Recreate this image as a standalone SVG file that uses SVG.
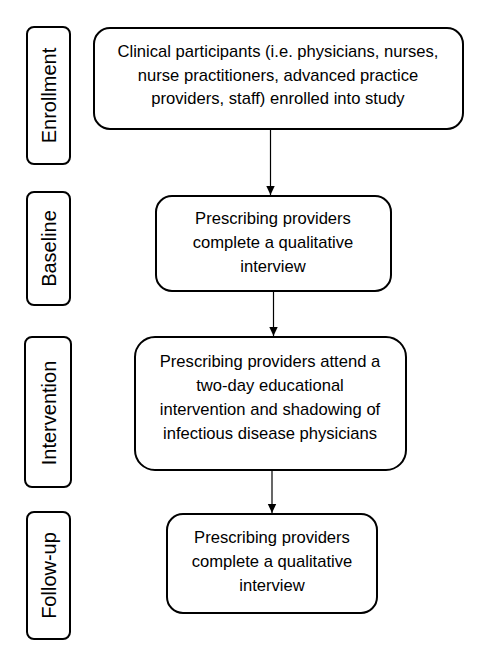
<svg xmlns="http://www.w3.org/2000/svg" width="502" height="657" viewBox="0 0 502 657">
<defs>
<marker id="ah" markerWidth="10" markerHeight="10" refX="9" refY="5" orient="auto" markerUnits="userSpaceOnUse">
<path d="M0,0.8 L9,5 L0,9.2 Z" fill="#000"/>
</marker>
<style>
.box{fill:#fff;stroke:#000;stroke-width:2}
.lab{fill:#fff;stroke:#000;stroke-width:2}
.t{font-family:"Liberation Sans",Arial,sans-serif;font-size:16.6px;fill:#000;text-anchor:middle}
.st{font-family:"Liberation Sans",Arial,sans-serif;font-size:20px;fill:#000;text-anchor:middle}
.c{stroke:#000;stroke-width:1.2;fill:none;marker-end:url(#ah)}
</style>
</defs>
<rect width="502" height="657" fill="#fff"/>
<g id="stage-enrollment">
<rect class="lab" x="27" y="27" width="43" height="137" rx="7"/>
<text class="st" transform="translate(56,95.5) rotate(-90)">Enrollment</text>
</g>
<g id="stage-baseline">
<rect class="lab" x="27" y="192" width="43" height="113" rx="7"/>
<text class="st" transform="translate(56,248.5) rotate(-90)">Baseline</text>
</g>
<g id="stage-intervention">
<rect class="lab" x="25" y="337" width="46" height="150" rx="7"/>
<text class="st" transform="translate(56,413) rotate(-90)">Intervention</text>
</g>
<g id="stage-followup">
<rect class="lab" x="27" y="512" width="43" height="127" rx="7"/>
<text class="st" transform="translate(56,575.5) rotate(-90)">Follow-up</text>
</g>
<g id="node-enrollment">
<rect class="box" x="94" y="28" width="369" height="101" rx="16"/>
<text class="t" x="278" y="57">Clinical participants (i.e. physicians, nurses,</text>
<text class="t" x="278" y="81">nurse practitioners, advanced practice</text>
<text class="t" x="278" y="104">providers, staff) enrolled into study</text>
</g>
<g id="node-baseline">
<rect class="box" x="156" y="196" width="235" height="95" rx="16"/>
<text class="t" x="273" y="224">Prescribing providers</text>
<text class="t" x="273" y="248">complete a qualitative</text>
<text class="t" x="273" y="272">interview</text>
</g>
<g id="node-intervention">
<rect class="box" x="135" y="337" width="271" height="133" rx="20"/>
<text class="t" x="270" y="367">Prescribing providers attend a</text>
<text class="t" x="270" y="391">two-day educational</text>
<text class="t" x="270" y="415">intervention and shadowing of</text>
<text class="t" x="270" y="439">infectious disease physicians</text>
</g>
<g id="node-followup">
<rect class="box" x="167" y="514" width="210" height="99" rx="16"/>
<text class="t" x="272" y="543">Prescribing providers</text>
<text class="t" x="272" y="567">complete a qualitative</text>
<text class="t" x="272" y="591">interview</text>
</g>
<g id="connectors">
<line class="c" x1="270.5" y1="129" x2="270.5" y2="195"/>
<line class="c" x1="273.5" y1="291" x2="273.5" y2="336"/>
<line class="c" x1="272" y1="470" x2="272" y2="513"/>
</g>
</svg>
